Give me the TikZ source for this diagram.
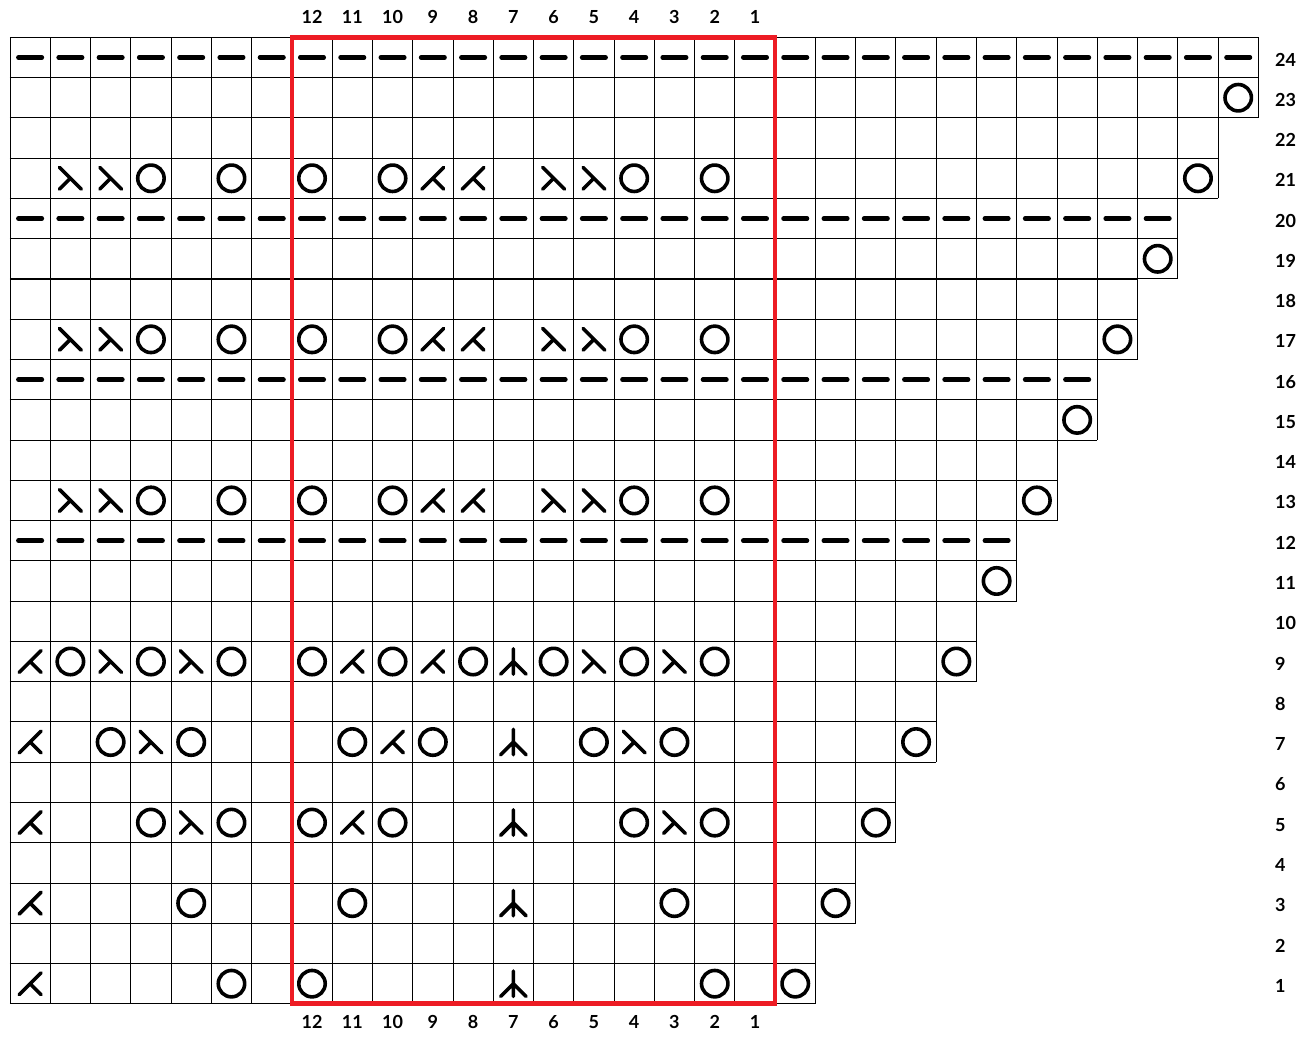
\documentclass[tikz,border=0pt]{standalone}
\usepackage{fontspec}
\setmainfont{Lato}
\definecolor{chartred}{HTML}{ED1C24}
\tikzset{
  cellgrid/.style={step=1, line width=.9pt, black},
  redframe/.style={line width=4.7pt, chartred},
  stitch/.style={line width=3.6pt, line cap=round, line join=round},
  purl/.style={line width=4.5pt, line cap=round},
  numlabel/.style={font=\fontsize{18}{20}\selectfont\bfseries, inner sep=0pt}
}
\begin{document}
\begin{tikzpicture}[x=40.27pt, y=40.27pt]
    \useasboundingbox (-.248,-.8) rectangle (32.332,24.927);
      % rows get longer towards the top
      \foreach \r [evaluate=\r as \n using {int(19+ceil(\r/2))}] in {1,...,24}
      {
          \draw[cellgrid] (0,\r-1) grid (\n,\r);
      }
      \draw[redframe] (7,0) rectangle (19,24);

      % purl rows
      \foreach \r [evaluate=\r as \n using {int(19+ceil(\r/2))}] in {12,16,20,24}
      {
          \foreach \i in {1,...,\n}
              \draw[purl] (\i-.5,\r-.5) ++(-.292,0) -- ++(.584,0);
      }
      % yarn overs on the edge
      \foreach \r [evaluate=\r as \i using {int(19+(\r+1)/2)}] in {1,3,...,23}
          \draw[stitch] (\i-.5,\r-.5) circle[radius=.328];

      % rows 13, 17, 21
      \foreach \r in {13,17,21}
      {
          \foreach \i in {4,6,8,10,16,18}
              \draw[stitch] (\i-.5,\r-.5) circle[radius=.328];
          \foreach \i in {2,3,14,15}
              \draw[stitch] (\i-.5,\r-.5) ++(-.27,.27) -- ++(.54,-.54) ++(-.27,.27) -- ++(-.27,-.27);
          \foreach \i in {11,12}
              \draw[stitch] (\i-.5,\r-.5) ++(.27,.27) -- ++(-.54,-.54) ++(.27,.27) -- ++(.27,-.27);
      }

      % rows 1 to 9
      \foreach \r/\cols in {9/{2,4,6,8,10,12,14,16,18}, 7/{3,5,9,11,15,17}, 5/{4,6,8,10,16,18}, 3/{5,9,17}, 1/{6,8,18}}
      {
          \foreach \i in \cols
              \draw[stitch] (\i-.5,\r-.5) circle[radius=.328];
      }
      \foreach \r/\cols in {9/{3,5,15,17}, 7/{4,16}, 5/{5,17}}
      {
          \foreach \i in \cols
              \draw[stitch] (\i-.5,\r-.5) ++(-.27,.27) -- ++(.54,-.54) ++(-.27,.27) -- ++(-.27,-.27);
      }
      \foreach \r/\cols in {9/{1,9,11}, 7/{1,10}, 5/{1,9}, 3/{1}, 1/{1}}
      {
          \foreach \i in \cols
              \draw[stitch] (\i-.5,\r-.5) ++(.27,.27) -- ++(-.54,-.54) ++(.27,.27) -- ++(.27,-.27);
      }
      \foreach \r in {1,3,5,7,9}
          \draw[stitch] (12.5,\r-.5) ++(0,.315) -- ++(0,-.63) ++(0,.315) -- ++(-.315,-.315) ++(.315,.315) -- ++(.315,-.315);

      % numbers
      \foreach \k in {1,...,12}
      {
          \node[numlabel] (top\k) at (19.5-\k,24.505) {\k};
          \node[numlabel] (bot\k) at (19.5-\k,-.452) {\k};
      }
      \foreach \r in {1,...,24}
          \node[numlabel, anchor=west] (row\r) at (31.41,\r-.55) {\r};

    \end{tikzpicture}
\end{document}
